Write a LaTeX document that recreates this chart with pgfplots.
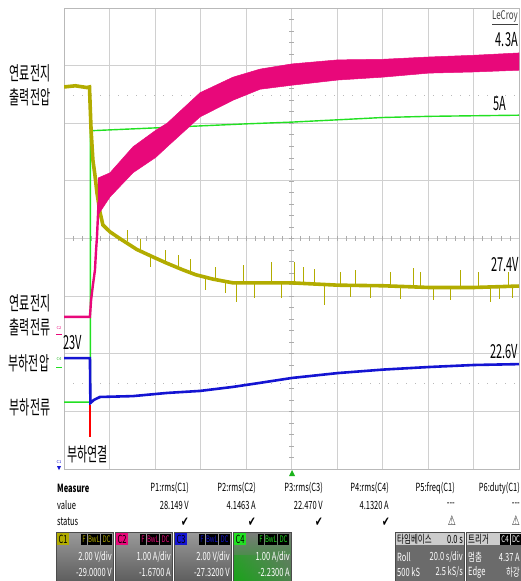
\documentclass[border=0pt]{standalone}
\usepackage{fontspec}
\setmainfont{Noto Sans CJK KR}
\newfontfamily\sym{DejaVu Sans}
\usepackage{graphicx}
\usepackage{pgfplots}
\pgfplotsset{compat=1.18}
\definecolor{cyel}{HTML}{B2AC00}
\definecolor{cmag}{HTML}{E8087A}
\definecolor{cgrn}{HTML}{22E022}
\definecolor{cblu}{HTML}{1414D2}
\definecolor{gridc}{HTML}{D0D0D0}
\definecolor{boxtop}{HTML}{9A9A9A}
\definecolor{boxbot}{HTML}{5E5E5E}
\newcommand{\vs}[1]{\scalebox{1}[1.75]{#1}}
\newcommand{\vt}[1]{\scalebox{1}[1.5]{#1}}
\pgfplotsset{osc/.style={at={(64pt,-469pt)}, anchor=south west, scale only axis,
  width=455pt, height=461pt, xmin=0, xmax=200}}
\begin{document}
\begin{tikzpicture}
\path[use as bounding box] (0,0) rectangle (521pt,-581pt);
% grid axis (divisions)
\begin{axis}[osc, ymin=-4, ymax=4, xtick={0,20,...,200}, ytick={-4,...,4},
  xticklabel=\empty, yticklabel=\empty, major tick length=0pt,
  grid=major, major grid style={gridc, line width=0.8pt},
  axis line style={gray!55, line width=0.8pt}]
\end{axis}
\begin{scope}[x=1pt,y=-1pt]
\foreach \k in {1,...,49} \draw[gray!65, line width=0.6pt] ({64+\k*9.1},236) -- ({64+\k*9.1},241);
\foreach \k in {1,...,39} \draw[gray!65, line width=0.6pt] (289,{8+\k*11.525}) -- (294,{8+\k*11.525});
\draw[gray!55, line width=1pt, dash pattern=on 1pt off 8pt] (64,95) -- (519,95);
\draw[gray!55, line width=1pt, dash pattern=on 1pt off 8pt] (64,383) -- (519,383);
\end{scope}
% C4: load current, 1 A/div, offset -2.23 A
\begin{axis}[osc, ymin=-1.77, ymax=6.23, hide axis]
\addplot[cgrn, line width=1.4pt] coordinates {(0,-0.61) (11.6,-0.61) (11.6,4.10) (40.4,4.15) (80.4,4.22) (100.2,4.25) (120.4,4.29) (140.2,4.33) (160.4,4.35) (180.2,4.36) (200,4.37)};
\end{axis}
% C3: load voltage, 2 V/div, offset -27.32 V
\begin{axis}[osc, ymin=19.32, ymax=35.32, hide axis]
\addplot[cblu, line width=2.6pt] coordinates {(0,23.17) (11.4,23.17) (11.6,21.61) (13.2,21.72) (15.8,21.82) (30.3,21.85) (45.3,21.96) (59.8,22.03) (74.3,22.17) (86.2,22.31) (100.2,22.48) (120.4,22.65) (140.2,22.77) (160.4,22.86) (180.2,22.93) (200,22.96)};
\end{axis}
% C1: fuel cell voltage, 2 V/div, offset -29 V
\begin{axis}[osc, ymin=21, ymax=37, hide axis, unbounded coords=jump]
\addplot[cyel, line width=3.6pt] coordinates {(0,34.26) (5,34.30) (10,34.24) (11.2,34.26) (11.5,33.6) (11.9,32.77) (12.7,31.72) (13.6,31.20) (14.5,30.58) (15.8,29.92) (17.1,29.47) (20.2,29.23) (25.5,28.95) (32,28.62) (39.1,28.36) (45,28.15) (52.3,27.91) (58,27.74) (65.5,27.59) (74.3,27.46) (86.2,27.46) (100.2,27.46) (120.4,27.38) (140.2,27.36) (160.4,27.30) (180.2,27.30) (200,27.35)};
\addplot[cyel, line width=0.9pt] coordinates {
(27.7,28.9) (27.7,29.30) (27.7,nan)
(33.4,28.6) (33.4,29.0) (33.4,nan)
(37.8,28.4) (37.8,28.0) (37.8,nan)
(44.4,28.18) (44.4,28.6) (44.4,nan)
(50.1,28.0) (50.1,28.43) (50.1,nan)
(55.4,27.8) (55.4,28.3) (55.4,nan)
(62.0,27.65) (62.0,27.2) (62.0,nan)
(66.4,27.58) (66.4,28.0) (66.4,nan)
(70.8,27.5) (70.8,27.1) (70.8,nan)
(76.0,27.46) (76.0,26.80) (76.0,nan)
(78.7,27.46) (78.7,28.08) (78.7,nan)
(83.9,27.46) (83.9,26.93) (83.9,nan)
(91.4,27.46) (91.4,28.18) (91.4,nan)
(95.8,27.46) (95.8,26.95) (95.8,nan)
(101.1,27.46) (101.1,28.18) (101.1,nan)
(105.1,27.40) (105.1,28.01) (105.1,nan)
(110.3,27.40) (110.3,27.95) (110.3,nan)
(114.7,27.40) (114.7,26.69) (114.7,nan)
(121.3,27.38) (121.3,27.85) (121.3,nan)
(125.7,27.37) (125.7,26.97) (125.7,nan)
(127.9,27.37) (127.9,27.91) (127.9,nan)
(134.5,27.36) (134.5,26.95) (134.5,nan)
(143.3,27.36) (143.3,27.84) (143.3,nan)
(147.7,27.35) (147.7,26.9) (147.7,nan)
(153.4,27.33) (153.4,27.98) (153.4,nan)
(156.5,27.32) (156.5,27.85) (156.5,nan)
(162.2,27.30) (162.2,26.87) (162.2,nan)
(169.7,27.30) (169.7,26.87) (169.7,nan)
(174.1,27.30) (174.1,27.9) (174.1,nan)
(182.0,27.30) (182.0,27.84) (182.0,nan)
(187.3,27.32) (187.3,26.80) (187.3,nan)
(191.6,27.33) (191.6,26.9) (191.6,nan)
(195.2,27.34) (195.2,27.84) (195.2,nan)
(196.9,27.34) (196.9,26.93)};
\end{axis}
% C2: fuel cell current, 1 A/div, offset -1.67 A
\begin{axis}[osc, ymin=-2.33, ymax=5.67, hide axis]
\addplot[cmag, line width=2.4pt] coordinates {(0,0.31) (11.4,0.31) (11.9,0.60) (12.7,0.86) (13.6,1.12) (14.1,1.47) (14.5,1.70) (15.2,2.3)};
\addplot[cmag, fill=cmag, line width=0.5pt] coordinates {(15.0,2.72) (20.2,2.81) (30.3,3.26) (40.4,3.55) (45.3,3.67) (59.8,4.20) (74.3,4.47) (86.2,4.61) (100.2,4.70) (120.4,4.77) (140.2,4.78) (160.4,4.82) (180.2,4.85) (200,4.89)
 (200,4.59) (180.2,4.56) (160.4,4.54) (140.2,4.47) (120.4,4.42) (100.2,4.33) (86.2,4.26) (74.3,4.07) (59.8,3.78) (45.3,3.26) (40.4,3.08) (30.3,2.81) (20.2,2.39) (15.0,2.08) (15.0,2.72)};
\end{axis}
\begin{scope}[x=1pt,y=-1pt]
\draw[red, line width=1.8pt] (90,405) -- (90,437);
% left labels
\begin{scope}[every node/.style={font=\fontsize{11}{12}\selectfont, inner sep=0pt}]
\node at (30,73) {\vs{연료전지}};
\node at (30,97) {\vs{출력전압}};
\node at (30,303) {\vs{연료전지}};
\node at (30,327) {\vs{출력전류}};
\node at (29,363) {\vs{부하전압}};
\node at (30,407) {\vs{부하전류}};
\node[anchor=west] at (67,454) {\vs{부하연결}};
\node[anchor=west] at (63,343) {\vs{23V}};
\node[anchor=east] at (518,40) {\vs{4.3A}};
\node[anchor=east] at (506,104) {\vs{5A}};
\node[anchor=east] at (519,265) {\vs{27.4V}};
\node[anchor=east] at (518,352) {\vs{22.6V}};
\end{scope}
\node[anchor=east, inner sep=0pt, font=\fontsize{8}{9}\selectfont, text=black!75] at (518,18) {\vt{\underline{LeCroy}}};
% channel markers
\node[font=\fontsize{4}{5}\selectfont, text=cmag, inner sep=0pt] at (59,328) {C2};
\draw[cmag, line width=1pt] (56,334) -- (62,334);
\node[font=\fontsize{4}{5}\selectfont, text=cgrn!80!black, inner sep=0pt] at (59,359) {C4};
\draw[cgrn, line width=1pt] (56,367) -- (62,367);
\node[font=\fontsize{4}{5}\selectfont, text=cblu, inner sep=0pt] at (59,462) {C1};
\fill[cblu] (57,466) -- (61,466) -- (59,470) -- cycle;
\fill[cgrn!80!black] (289,476) -- (295,476) -- (292,470) -- cycle;
% measurement table
\begin{scope}[every node/.style={font=\fontsize{7.5}{8}\selectfont, inner sep=0pt}]
\node[anchor=west] at (57,488) {\vt{\bfseries Measure}};
\node[anchor=west] at (57,505) {\vt{value}};
\node[anchor=west] at (57,522) {\vt{status}};
\foreach \x/\h/\v in {189/P1:rms(C1)/28.149 V, 256/P2:rms(C2)/4.1463 A, 323/P3:rms(C3)/22.470 V, 389/P4:rms(C4)/4.1320 A, 455/P5:freq(C1)/-{}-{}-, 520/P6:duty(C1)/-{}-{}-}{
  \node[anchor=east] at (\x,488) {\vt{\h}};
  \node[anchor=east] at (\x,505) {\vt{\v}};
}
\foreach \x in {185,252,319,386} \node[font=\sym\fontsize{9}{10}\selectfont] at (\x,522) {\vt{✔}};
\foreach \x in {452,516} \node[font=\sym\fontsize{9}{10}\selectfont, text=black!80] at (\x,521) {\vt{⚠}};
\end{scope}
% channel boxes
\begin{scope}[every node/.style={font=\fontsize{7.5}{8}\selectfont, inner sep=0pt}]
\foreach \a/\b in {56/113, 115/172, 174/231}{
  \shade[top color=boxtop, bottom color=boxbot] (\a,532) rectangle (\b,581);
  \draw[black!70, line width=0.6pt] (\a,532) rectangle (\b,581);
}
\shade[top color=boxtop!80!black, bottom color=cgrn!70!black] (233,532) rectangle (291,581);
\shade[left color=cgrn!75!black, right color=black!55, opacity=0.6] (233,555) rectangle (291,581);
\draw[black!70, line width=0.6pt] (233,532) rectangle (291,581);
\foreach \a/\c/\t in {56/cyel/C1, 115/cmag/C2, 174/cblu/C3, 233/cgrn/C4}{
  \fill[\c] (\a+1,533) rectangle (\a+13,545);
  \node[text=black] at (\a+7,539) {\vt{\t}};
  \fill[black] (\a+25,534) rectangle (\a+31,545);
  \fill[black] (\a+32,534) rectangle (\a+44,545);
  \fill[black] (\a+45,534) rectangle (\a+56,545);
  \node[text=\c, font=\fontsize{6}{7}\selectfont] at (\a+28,539.5) {\vt{F}};
  \node[text=\c, font=\fontsize{6}{7}\selectfont] at (\a+38,539.5) {\vt{BwL}};
  \node[text=\c, font=\fontsize{6}{7}\selectfont] at (\a+50.5,539.5) {\vt{DC}};
}
\node[text=white, anchor=east] at (112,557) {\vt{2.00 V/div}};
\node[text=white, anchor=east] at (112,572) {\vt{-29.0000 V}};
\node[text=white, anchor=east] at (171,557) {\vt{1.00 A/div}};
\node[text=white, anchor=east] at (171,572) {\vt{-1.6700 A}};
\node[text=white, anchor=east] at (230,557) {\vt{2.00 V/div}};
\node[text=white, anchor=east] at (230,572) {\vt{-27.3200 V}};
\node[text=white, anchor=east] at (290,557) {\vt{1.00 A/div}};
\node[text=white, anchor=east] at (290,572) {\vt{-2.2300 A}};
% timebase and trigger
\fill[black!58] (395,545) rectangle (464,581);
\fill[black!20] (395,532) rectangle (464,545);
\draw[black!70, line width=0.6pt] (395,532) rectangle (464,581);
\fill[black!58] (466,545) rectangle (521,581);
\fill[black!20] (466,532) rectangle (521,545);
\draw[black!70, line width=0.6pt] (466,532) rectangle (521.5,581);
\node[anchor=west] at (397,539) {\vt{타임베이스}};
\node[anchor=east] at (463,539) {\vt{0.0 s}};
\node[anchor=west, text=white] at (397,557) {\vt{Roll}};
\node[anchor=east, text=white] at (463,557) {\vt{20.0 s/div}};
\node[anchor=west, text=white] at (397,572) {\vt{500 kS}};
\node[anchor=east, text=white] at (463,572) {\vt{2.5 kS/s}};
\node[anchor=west] at (468,539) {\vt{트리거}};
\fill[black] (500,534) rectangle (510,545);
\fill[black] (511,534) rectangle (521,545);
\node[text=white, font=\fontsize{6}{7}\selectfont] at (505,539.5) {\vt{C4}};
\node[text=white, font=\fontsize{6}{7}\selectfont] at (516,539.5) {\vt{DC}};
\node[anchor=west, text=white] at (468,557) {\vt{멈춤}};
\node[anchor=east, text=white] at (520,557) {\vt{4.37 A}};
\node[anchor=west, text=white] at (468,572) {\vt{Edge}};
\node[anchor=east, text=white] at (520,572) {\vt{하강}};
\end{scope}
\end{scope}
\end{tikzpicture}
\end{document}
